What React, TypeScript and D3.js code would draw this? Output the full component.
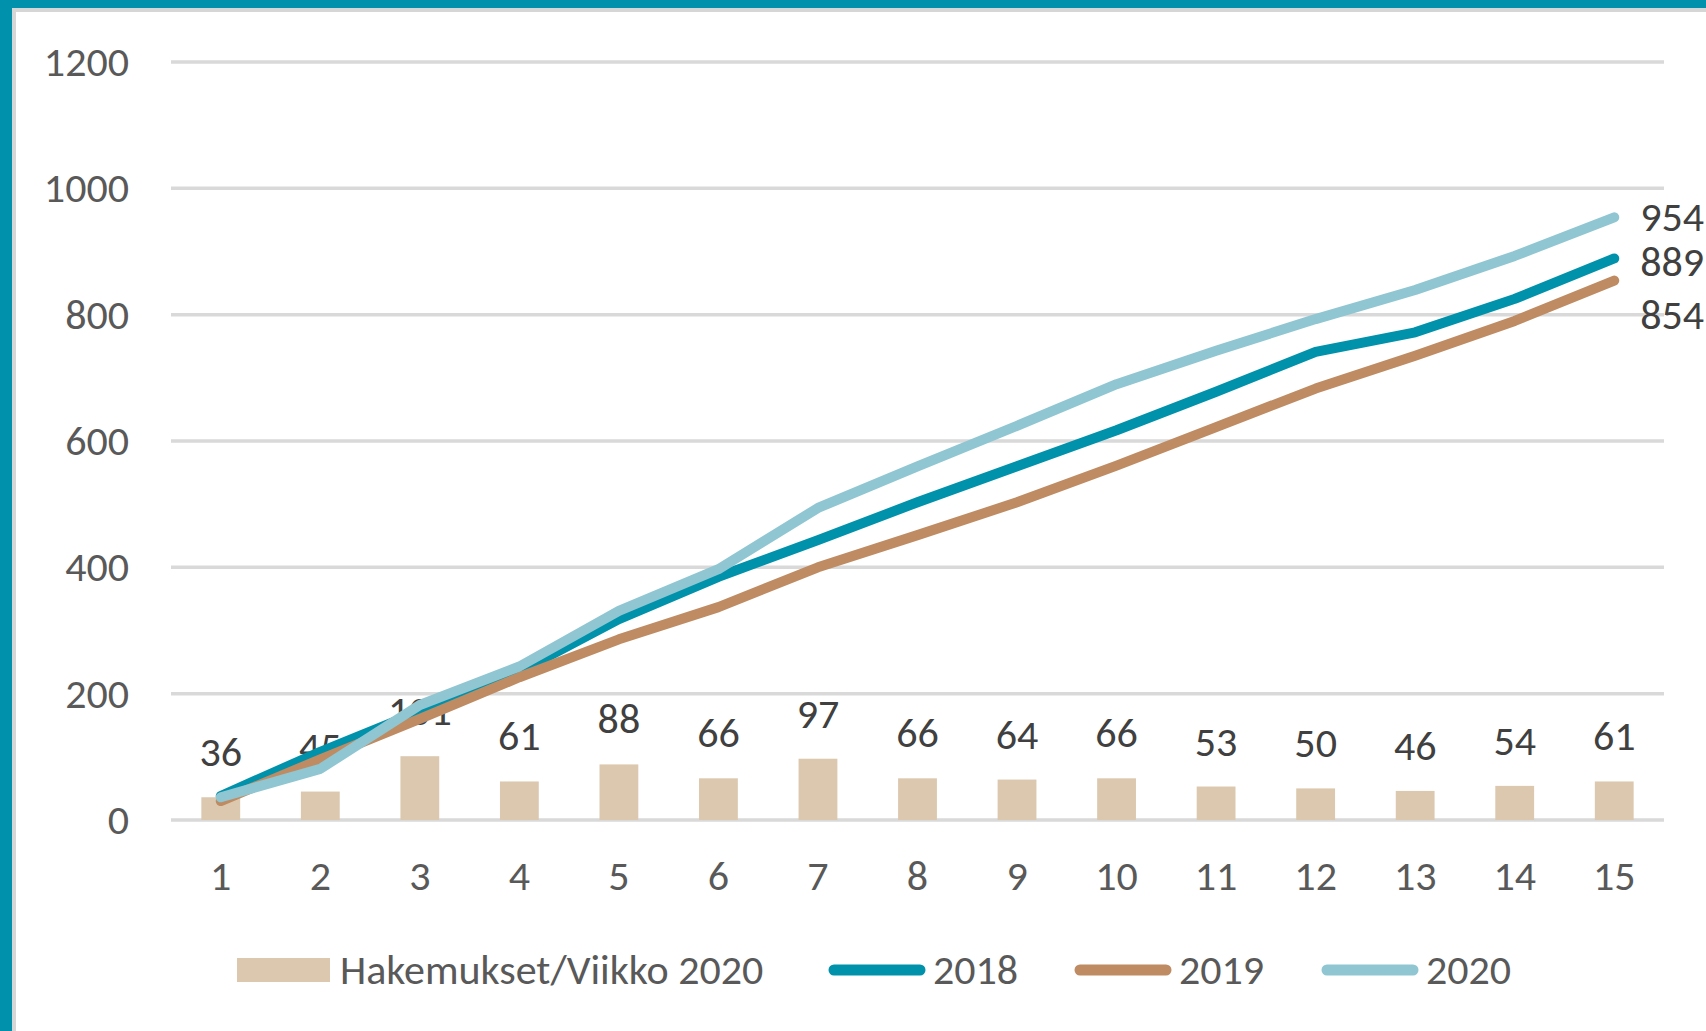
import React, { useRef, useEffect } from 'react';
import * as d3 from 'd3';

// ─── Data ──────────────────────────────────────────────────────────────────────
const weeks = ['1', '2', '3', '4', '5', '6', '7', '8', '9', '10', '11', '12', '13', '14', '15'];
const weekly2020 = [36, 45, 101, 61, 88, 66, 97, 66, 64, 66, 53, 50, 46, 54, 61];
const cum2018 = [38, 108, 172, 235, 318, 385, 443, 503, 560, 617, 678, 741, 772, 825, 889];
const cum2019 = [30, 96, 160, 226, 286, 337, 400, 451, 503, 561, 622, 683, 735, 790, 854];
const cum2020 = [36, 81, 182, 243, 331, 397, 494, 560, 624, 690, 743, 793, 839, 893, 954];
const yTicks = [0, 200, 400, 600, 800, 1000, 1200];

const barLabel = 'Hakemukset/Viikko 2020';
const lineSeries = [
    { name: '2018', values: cum2018, color: '#0091AB', nudge: 4 },
    { name: '2019', values: cum2019, color: '#BE8B63', nudge: 35 },
    { name: '2020', values: cum2020, color: '#8FC6D2', nudge: 0 },
];

const W = 1706;
const H = 1031;
const FONT = 'Carlito, Calibri, "Open Sans", sans-serif';
const FS = '42px';
const BORDER = '#0092AC';

const Chart: React.FC = () => {
    const ref = useRef<SVGSVGElement | null>(null);

    useEffect(() => {
        if (!ref.current) return;
        const svg = d3.select(ref.current);
        svg.selectAll('*').remove();

        // frame
        svg.append('rect').attr('width', W).attr('height', H).attr('fill', '#fff');
        svg.append('rect').attr('x', 12).attr('y', 8).attr('width', W).attr('height', 4).attr('fill', '#d6d6d6');
        svg.append('rect').attr('x', 12).attr('y', 8).attr('width', 4).attr('height', H).attr('fill', '#d6d6d6');
        svg.append('rect').attr('x', 0).attr('y', 0).attr('width', W).attr('height', 8).attr('fill', BORDER);
        svg.append('rect').attr('x', 0).attr('y', 0).attr('width', 12).attr('height', H).attr('fill', BORDER);

        // scales
        const x = d3.scaleBand<string>().domain(weeks).range([171, 1664]).padding(0);
        const cx = (w: string) => (x(w) as number) + x.bandwidth() / 2;
        const barW = x.bandwidth() * 0.39;
        const y = d3.scaleLinear().domain([0, 1200]).range([820, 62]);

        // gridlines + y labels
        const grid = svg.append('g');
        grid.selectAll('line')
            .data(yTicks)
            .enter()
            .append('line')
            .attr('x1', 171)
            .attr('x2', 1664)
            .attr('y1', d => y(d))
            .attr('y2', d => y(d))
            .attr('stroke', '#d9d9d9')
            .attr('stroke-width', 3.5);
        grid.selectAll('text')
            .data(yTicks)
            .enter()
            .append('text')
            .attr('x', 129)
            .attr('y', d => y(d))
            .attr('dy', '0.33em')
            .attr('text-anchor', 'end')
            .style('font-family', FONT)
            .style('font-size', FS)
            .style('fill', '#595959')
            .text(d => d);

        // x labels
        svg.append('g')
            .selectAll('text')
            .data(weeks)
            .enter()
            .append('text')
            .attr('x', d => cx(d))
            .attr('y', 890)
            .attr('text-anchor', 'middle')
            .style('font-family', FONT)
            .style('font-size', FS)
            .style('fill', '#595959')
            .text(d => d);

        // bars
        svg.append('g')
            .selectAll('rect')
            .data(weekly2020)
            .enter()
            .append('rect')
            .attr('x', (_, i) => cx(weeks[i]) - barW / 2)
            .attr('y', d => y(d))
            .attr('width', barW)
            .attr('height', d => y(0) - y(d))
            .attr('fill', '#DCC8AE');

        // bar value labels
        svg.append('g')
            .selectAll('text')
            .data(weekly2020)
            .enter()
            .append('text')
            .attr('x', (_, i) => cx(weeks[i]))
            .attr('y', d => y(d) - 31)
            .attr('text-anchor', 'middle')
            .style('font-family', FONT)
            .style('font-size', FS)
            .style('fill', '#404040')
            .text(d => d);

        // lines
        const line = d3.line<number>()
            .x((_, i) => cx(weeks[i]))
            .y(d => y(d));

        lineSeries.forEach(s => {
            svg.append('path')
                .datum(s.values)
                .attr('d', line)
                .attr('fill', 'none')
                .attr('stroke', s.color)
                .attr('stroke-width', 10)
                .attr('stroke-linecap', 'round')
                .attr('stroke-linejoin', 'round');
        });

        // end labels
        const last = weeks.length - 1;
        lineSeries.forEach(s => {
            svg.append('text')
                .attr('x', cx(weeks[last]) + 26)
                .attr('y', y(s.values[last]) + s.nudge)
                .attr('dy', '0.33em')
                .style('font-family', FONT)
                .style('font-size', FS)
                .style('fill', '#404040')
                .text(s.values[last]);
        });

        // legend
        const lg = svg.append('g').attr('transform', 'translate(0,970)');
        lg.append('rect')
            .attr('x', 237).attr('y', -12).attr('width', 93).attr('height', 24)
            .attr('fill', '#DCC8AE');
        lg.append('text')
            .attr('x', 340).attr('y', 0).attr('dy', '0.33em')
            .style('font-family', FONT).style('font-size', FS).style('fill', '#595959')
            .text(barLabel);
        const legendX = [829, 1075, 1322];
        lineSeries.forEach((s, i) => {
            lg.append('line')
                .attr('x1', legendX[i] + 5).attr('x2', legendX[i] + 91)
                .attr('y1', 0).attr('y2', 0)
                .attr('stroke', s.color).attr('stroke-width', 11)
                .attr('stroke-linecap', 'round');
            lg.append('text')
                .attr('x', legendX[i] + 104).attr('y', 0).attr('dy', '0.33em')
                .style('font-family', FONT).style('font-size', FS).style('fill', '#595959')
                .text(s.name);
        });
    }, []);

    return <svg ref={ref} width={W} height={H} style={{ display: 'block' }} />;
};

export default function App() {
    useEffect(() => {
        document.body.style.margin = '0';
        document.body.style.overflow = 'hidden';
    }, []);
    return <Chart />;
}
